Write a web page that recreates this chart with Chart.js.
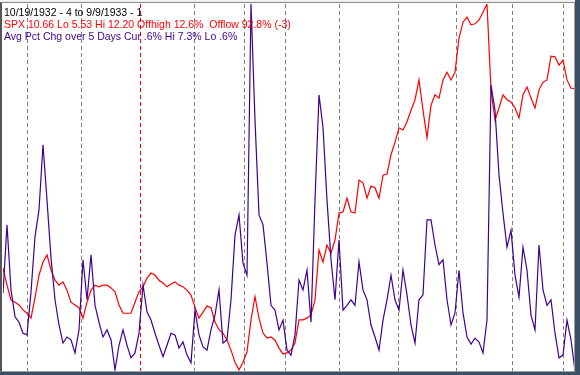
<!DOCTYPE html>
<html>

<head>
    <title>SPX 1932-1933 Avg Pct Chg</title>
    <script src="https://cdn.jsdelivr.net/npm/chart.js@4.4.0/dist/chart.umd.min.js"></script>
    <style>
        body { margin: 0; background: #3b4f66; width: 580px; height: 375px; overflow: hidden; }
        #frame { position: absolute; left: 0; top: 0; width: 575px; height: 372px; background: #f0f0f0; }
        #plot {
            position: absolute; left: 0; top: 2px; width: 575px; height: 370px; box-sizing: border-box;
            background: #fff; overflow: hidden;
            border-top: 1px solid #8a8a8a; border-left: 2px solid #555; border-right: 1px solid #a0a0a0; border-bottom: 1px solid #a0a0a0;
        }
        #wrap { position: absolute; left: 1px; top: 1px; width: 572px; height: 367px; }
        .lbl { position: absolute; left: 2px; font: 10.5px "Liberation Sans", Arial, sans-serif; line-height: 12px; white-space: pre; }
    </style>
</head>

<body>
    <div id="frame">
        <div id="plot">
            <div id="wrap"><canvas id="spxChart"></canvas></div>
            <div class="lbl" style="top:3px;color:#000">10/19/1932 - 4 to 9/9/1933 - 1</div>
            <div class="lbl" style="top:15px;color:#f00">SPX 10.66 Lo 5.53 Hi 12.20 Offhigh 12.6%  Offlow 92.8% (-3)</div>
            <div class="lbl" style="top:27px;color:#3f0090">Avg Pct Chg over 5 Days Cur .6% Hi 7.3% Lo .6%</div>
        </div>
    </div>

    <script>
        // SPX close, sampled along the period (Oct 1932 - Sep 1933)
        var spx = [
            7.40, 7.09, 6.82, 6.78, 6.73, 6.64, 6.58, 6.49, 6.86, 7.27, 7.51, 7.64,
            7.37, 7.18, 7.09, 7.15, 7.00, 6.78, 6.73, 6.68, 6.49, 6.78, 7.00, 7.09,
            7.06, 7.09, 7.09, 7.04, 6.97, 6.73, 6.58, 6.58, 6.58, 6.78, 6.97, 7.06,
            7.22, 7.31, 7.27, 7.18, 7.13, 7.06, 7.11, 7.15, 7.09, 7.06, 7.00, 6.91,
            6.69, 6.49, 6.60, 6.71, 6.68, 6.42, 6.28, 6.22, 6.09, 5.91, 5.69, 5.55,
            5.69, 5.88, 6.46, 6.88, 6.49, 6.22, 6.13, 6.15, 6.09, 5.95, 5.84, 5.86,
            5.91, 6.04, 6.46, 6.46, 6.49, 6.55, 6.82, 7.73, 7.51, 7.82, 7.67, 7.91,
            8.40, 8.42, 8.67, 8.42, 8.40, 9.00, 8.95, 8.67, 8.89, 8.86, 8.67, 9.09,
            9.11, 9.46, 9.69, 9.95, 9.91, 10.06, 10.27, 10.46, 10.82, 10.27, 9.77, 10.36,
            10.55, 10.49, 10.82, 10.96, 10.82, 10.96, 11.58, 11.87, 11.96, 11.82, 11.84, 11.91,
            12.05, 12.20, 10.64, 10.09, 10.31, 10.55, 10.46, 10.42, 10.31, 10.13, 10.55, 10.69,
            10.49, 10.31, 10.64, 10.78, 10.82, 11.25, 11.24, 11.09, 11.18, 10.82, 10.67, 10.66
        ];

        // Average percent change over 5 days
        var avgPctChg = [
            2.02, 3.27, 2.08, 1.59, 1.49, 1.29, 1.26, 2.04, 3.05, 3.54, 4.73, 3.72,
            2.66, 1.90, 1.44, 1.11, 1.22, 1.17, 0.93, 1.35, 2.63, 1.90, 2.72, 1.80,
            1.49, 1.22, 1.35, 1.17, 0.62, 1.07, 1.35, 1.07, 0.84, 0.93, 1.29, 2.17,
            1.68, 1.53, 1.29, 1.07, 0.86, 1.07, 1.29, 1.26, 1.02, 1.13, 0.89, 0.75,
            1.71, 1.26, 1.04, 0.98, 1.35, 1.62, 2.08, 1.11, 1.17, 1.90, 3.08, 3.45,
            2.57, 2.35, 7.30, 5.18, 3.45, 3.27, 2.57, 1.80, 1.71, 1.35, 1.53, 0.98,
            0.89, 1.26, 2.26, 2.08, 2.44, 1.49, 3.72, 5.64, 5.05, 3.72, 2.63, 1.90,
            2.99, 1.71, 1.80, 1.90, 1.80, 2.59, 2.08, 1.90, 1.44, 1.22, 0.98, 1.53,
            1.90, 2.35, 1.90, 1.71, 2.44, 1.99, 1.44, 1.11, 1.90, 1.99, 3.36, 3.36,
            2.90, 2.54, 2.63, 1.90, 1.44, 1.66, 2.44, 1.66, 1.22, 1.09, 1.20, 1.13,
            0.93, 1.53, 5.82, 5.36, 4.18, 3.48, 2.86, 3.17, 2.35, 1.95, 2.86, 2.44,
            1.62, 1.35, 2.90, 2.08, 1.80, 1.90, 1.29, 0.84, 0.89, 1.53, 1.17, 0.60
        ];

        // sample positions along the x axis
        var samples = spx.map(function (v, i) { return i; });

        // month boundaries (Nov 1932 .. Sep 1933) as sample positions
        var monthNames = ['Nov', 'Dec', 'Jan', 'Feb', 'Mar', 'Apr', 'May', 'Jun', 'Jul', 'Aug', 'Sep'];
        var monthStarts = [6, 19.5, 34.25, 47.75, 60.25, 70.5, 84, 98.75, 113.25, 127.25, 140];

        function points(values) {
            return values.map(function (v, i) { return { x: samples[i], y: v }; });
        }

        var ctx = document.getElementById('spxChart').getContext('2d');
        var chart = new Chart(ctx, {
            type: 'line',
            data: {
                datasets: [{
                    label: 'Avg Pct Chg over 5 Days',
                    data: points(avgPctChg),
                    yAxisID: 'yP',
                    borderColor: '#3f0090',
                    borderWidth: 1.2
                }, {
                    label: 'SPX',
                    data: points(spx),
                    yAxisID: 'yS',
                    borderColor: '#ff0000',
                    borderWidth: 1.2
                }]
            },
            options: {
                responsive: true,
                maintainAspectRatio: false,
                animation: false,
                layout: { padding: 0 },
                elements: { point: { radius: 0 }, line: { tension: 0 } },
                plugins: { legend: { display: false }, tooltip: { enabled: false } },
                scales: {
                    x: {
                        type: 'linear',
                        min: 0,
                        max: samples.length - 1,
                        afterBuildTicks: function (scale) {
                            scale.ticks = monthStarts.map(function (v, i) { return { value: v, label: monthNames[i] }; });
                        },
                        ticks: { display: false },
                        grid: {
                            drawTicks: false,
                            lineWidth: 1,
                            color: function (c) { return monthNames[c.index] === 'Jan' ? '#ff0000' : '#808080'; }
                        },
                        border: { display: false, dash: [4, 3] }
                    },
                    yS: { display: false, min: 5.53, max: 12.20 },
                    yP: { display: false, min: 0.6, max: 7.3 }
                }
            }
        });
    </script>
</body>

</html>
